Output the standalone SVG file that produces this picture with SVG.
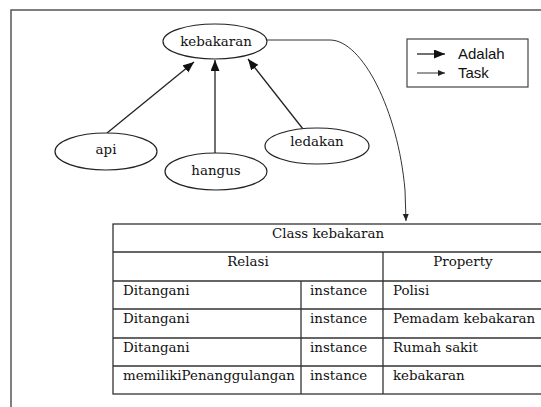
<svg xmlns="http://www.w3.org/2000/svg" width="541" height="407" viewBox="0 0 541 407">
<style>
.node ellipse{fill:#fff;stroke:#222;stroke-width:1.2}
.lbl{font-family:"DejaVu Serif","Liberation Serif",serif;font-size:13.4px;fill:#111}
.mid{text-anchor:middle}
.leg{font-family:"Liberation Sans",Arial,sans-serif;font-size:15px;fill:#111}
.tbl line,.tbl rect{stroke:#333;stroke-width:1.3;fill:none}
.adalah{stroke:#222;stroke-width:1.3;fill:none}
.task{stroke:#333;stroke-width:1;fill:none}
</style>
<defs>
<marker id="mA" markerUnits="userSpaceOnUse" markerWidth="12" markerHeight="10" refX="11" refY="4.5" orient="auto">
<path d="M0,0 L11,4.5 L0,9 z" fill="#111"/>
</marker>
<marker id="mT" markerUnits="userSpaceOnUse" markerWidth="8" markerHeight="8" refX="7" refY="3" orient="auto">
<path d="M0,0 L7,3 L0,6 z" fill="#222"/>
</marker>
</defs>
<rect x="11" y="10" width="560" height="420" fill="none" stroke="#555" stroke-width="1.5"/>
<g id="connectors">
<line class="adalah" x1="107" y1="133" x2="194" y2="62" marker-end="url(#mA)"/>
<line class="adalah" x1="215" y1="153" x2="215" y2="60" marker-end="url(#mA)"/>
<line class="adalah" x1="303" y1="129" x2="248" y2="59" marker-end="url(#mA)"/>
<path class="task" d="M266,40 H330 C362,40 398,110 405,190 L406,221" marker-end="url(#mT)"/>
</g>
<g id="node-kebakaran" class="node"><ellipse cx="215" cy="41.5" rx="52" ry="17.5"/><text class="lbl mid" x="216" y="45.5">kebakaran</text></g>
<g id="node-api" class="node"><ellipse cx="106" cy="151.5" rx="51" ry="18.5"/><text class="lbl mid" x="106" y="154">api</text></g>
<g id="node-hangus" class="node"><ellipse cx="216" cy="171.5" rx="51" ry="18.5"/><text class="lbl mid" x="216" y="175">hangus</text></g>
<g id="node-ledakan" class="node"><ellipse cx="317" cy="146" rx="52" ry="18"/><text class="lbl mid" x="317" y="146">ledakan</text></g>
<g id="legend">
<rect x="407" y="39" width="121" height="48" fill="#fff" stroke="#444" stroke-width="1.2"/>
<line class="adalah" x1="417" y1="54" x2="445" y2="54" marker-end="url(#mA)"/>
<line class="task" x1="417" y1="73" x2="445" y2="73" marker-end="url(#mT)"/>
<text class="leg" x="458" y="59">Adalah</text>
<text class="leg" x="458" y="78">Task</text>
</g>
<g id="table" class="tbl">
<rect x="113" y="224" width="430" height="170"/>
<line x1="113" y1="252" x2="543" y2="252"/>
<line x1="113" y1="281" x2="543" y2="281"/>
<line x1="113" y1="309" x2="543" y2="309"/>
<line x1="113" y1="338" x2="543" y2="338"/>
<line x1="113" y1="366" x2="543" y2="366"/>
<line x1="383" y1="252" x2="383" y2="394"/>
<line x1="301" y1="281" x2="301" y2="394"/>
<text class="lbl mid" x="328" y="238">Class kebakaran</text>
<text class="lbl mid" x="248" y="266">Relasi</text>
<text class="lbl mid" x="463" y="266">Property</text>
<text class="lbl" x="123" y="295">Ditangani</text>
<text class="lbl" x="310" y="295">instance</text>
<text class="lbl" x="393" y="295">Polisi</text>
<text class="lbl" x="123" y="323">Ditangani</text>
<text class="lbl" x="310" y="323">instance</text>
<text class="lbl" x="393" y="323">Pemadam kebakaran</text>
<text class="lbl" x="123" y="352">Ditangani</text>
<text class="lbl" x="310" y="352">instance</text>
<text class="lbl" x="393" y="352">Rumah sakit</text>
<text class="lbl" x="123" y="380">memilikiPenanggulangan</text>
<text class="lbl" x="310" y="380">instance</text>
<text class="lbl" x="393" y="380">kebakaran</text>
</g>
</svg>
